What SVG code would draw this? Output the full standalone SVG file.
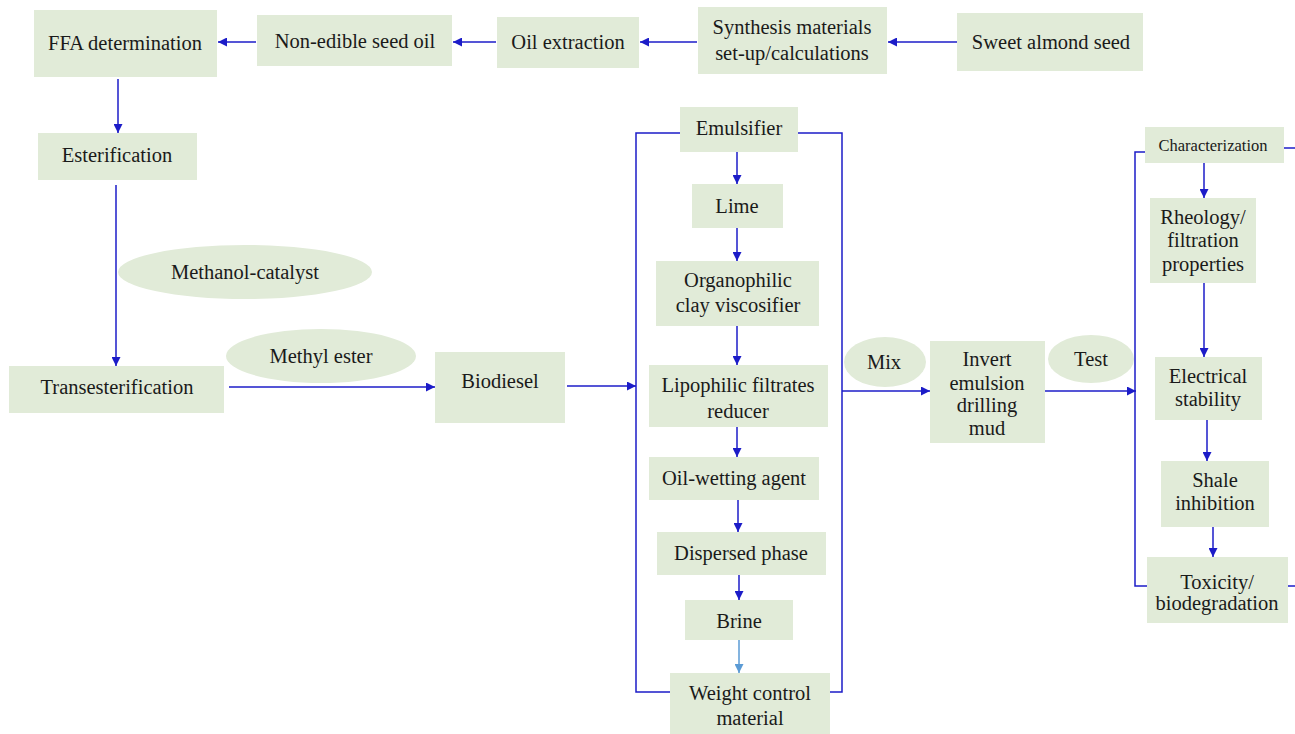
<svg xmlns="http://www.w3.org/2000/svg" width="1295" height="734" viewBox="0 0 1295 734">
<defs>
<marker id="ah" viewBox="0 0 10 10" refX="10" refY="5" markerWidth="9" markerHeight="9" markerUnits="userSpaceOnUse" orient="auto"><path d="M0,0 L10,5 L0,10 z" fill="#1c1cc8"/></marker>
<marker id="ahl" viewBox="0 0 10 10" refX="10" refY="5" markerWidth="9" markerHeight="9" markerUnits="userSpaceOnUse" orient="auto"><path d="M0,0 L10,5 L0,10 z" fill="#5b9bd5"/></marker>
<style>
.b{fill:#e1ebd8}
.t{font-size:20.5px;fill:#1a1a1a;text-anchor:middle}
.s{font-size:16.5px}
.c{fill:none;stroke:#1c1cc8;stroke-width:1.5}
.a{marker-end:url(#ah)}
</style>
</defs>
<rect width="1295" height="734" fill="#ffffff"/>
<g id="connectors">
<line class="c a" x1="957" y1="42" x2="888" y2="42"/>
<line class="c a" x1="697" y1="42" x2="640" y2="42"/>
<line class="c a" x1="496" y1="42" x2="453" y2="42"/>
<line class="c a" x1="256" y1="42" x2="218" y2="42"/>
<line class="c a" x1="118" y1="79" x2="118" y2="133"/>
<line class="c a" x1="116" y1="185" x2="116" y2="366"/>
<line class="c a" x1="229" y1="387" x2="435" y2="387"/>
<line class="c a" x1="567" y1="386" x2="636" y2="386"/>
<polyline class="c" points="680,133 636,133 636,692 670,692"/>
<polyline class="c" points="798,133 842,133 842,692 830,692"/>
<line class="c a" x1="737" y1="152" x2="737" y2="184"/>
<line class="c a" x1="737" y1="228" x2="737" y2="261"/>
<line class="c a" x1="737" y1="326" x2="737" y2="365"/>
<line class="c a" x1="737" y1="427" x2="737" y2="457"/>
<line class="c a" x1="738" y1="500" x2="738" y2="532"/>
<line class="c a" x1="739" y1="575" x2="739" y2="600"/>
<line x1="739" y1="640" x2="739" y2="673" fill="none" stroke="#5b9bd5" stroke-width="1.5" marker-end="url(#ahl)"/>
<line class="c a" x1="842" y1="391" x2="930" y2="391"/>
<line class="c a" x1="1045" y1="391" x2="1136" y2="391"/>
<polyline class="c" points="1145,152 1135,152 1135,586 1147,586"/>
<line class="c" x1="1284" y1="148" x2="1295" y2="148"/>
<line class="c" x1="1288" y1="586" x2="1295" y2="586"/>
<line class="c a" x1="1204" y1="163" x2="1204" y2="198"/>
<line class="c a" x1="1204" y1="283" x2="1204" y2="357"/>
<line class="c a" x1="1207" y1="420" x2="1207" y2="461"/>
<line class="c a" x1="1213" y1="527" x2="1213" y2="557"/>
</g>
<g id="nodes" font-family="'Liberation Serif', 'DejaVu Serif', serif">
<g id="n-ffa"><rect class="b" x="34" y="10" width="183" height="67"/><text class="t" x="125" y="50">FFA determination</text></g>
<g id="n-nonedible"><rect class="b" x="257" y="15" width="195" height="51"/><text class="t" x="355" y="48">Non-edible seed oil</text></g>
<g id="n-oilext"><rect class="b" x="497" y="17" width="142" height="51"/><text class="t" x="568" y="49">Oil extraction</text></g>
<g id="n-synth"><rect class="b" x="698" y="7" width="189" height="67"/><text class="t" x="792" y="34">Synthesis materials</text><text class="t" x="792" y="60">set-up/calculations</text></g>
<g id="n-almond"><rect class="b" x="957" y="13" width="186" height="58"/><text class="t" x="1051" y="49">Sweet almond seed</text></g>
<g id="n-ester"><rect class="b" x="38" y="133" width="159" height="47"/><text class="t" x="117" y="162">Esterification</text></g>
<g id="n-methanol"><ellipse class="b" cx="245" cy="272" rx="127" ry="27"/><text class="t" x="245" y="279">Methanol-catalyst</text></g>
<g id="n-methyl"><ellipse class="b" cx="321" cy="356" rx="95" ry="27"/><text class="t" x="321" y="363">Methyl ester</text></g>
<g id="n-trans"><rect class="b" x="9" y="366" width="215" height="47"/><text class="t" x="117" y="394">Transesterification</text></g>
<g id="n-biodiesel"><rect class="b" x="435" y="352" width="130" height="71"/><text class="t" x="500" y="388">Biodiesel</text></g>
<g id="n-emulsifier"><rect class="b" x="680" y="107" width="118" height="45"/><text class="t" x="739" y="135">Emulsifier</text></g>
<g id="n-lime"><rect class="b" x="692" y="184" width="91" height="44"/><text class="t" x="737" y="213">Lime</text></g>
<g id="n-organo"><rect class="b" x="656" y="261" width="163" height="65"/><text class="t" x="738" y="287">Organophilic</text><text class="t" x="738" y="312">clay viscosifier</text></g>
<g id="n-lipo"><rect class="b" x="649" y="365" width="179" height="62"/><text class="t" x="738" y="392">Lipophilic filtrates</text><text class="t" x="738" y="418">reducer</text></g>
<g id="n-oilwet"><rect class="b" x="649" y="457" width="170" height="43"/><text class="t" x="734" y="485">Oil-wetting agent</text></g>
<g id="n-dispersed"><rect class="b" x="657" y="532" width="169" height="43"/><text class="t" x="741" y="560">Dispersed phase</text></g>
<g id="n-brine"><rect class="b" x="685" y="600" width="108" height="40"/><text class="t" x="739" y="628">Brine</text></g>
<g id="n-weight"><rect class="b" x="670" y="673" width="160" height="61"/><text class="t" x="750" y="700">Weight control</text><text class="t" x="750" y="725">material</text></g>
<g id="n-mix"><ellipse class="b" cx="885" cy="362" rx="41" ry="25"/><text class="t" x="884" y="369">Mix</text></g>
<g id="n-invert"><rect class="b" x="930" y="341" width="115" height="102"/><text class="t" x="987" y="366">Invert</text><text class="t" x="987" y="390">emulsion</text><text class="t" x="987" y="412">drilling</text><text class="t" x="987" y="435">mud</text></g>
<g id="n-test"><ellipse class="b" cx="1091" cy="359" rx="43" ry="24"/><text class="t" x="1091" y="366">Test</text></g>
<g id="n-char"><rect class="b" x="1145" y="127" width="139" height="36"/><text class="t s" x="1213" y="151">Characterization</text></g>
<g id="n-rheo"><rect class="b" x="1150" y="198" width="106" height="85"/><text class="t" x="1203" y="224">Rheology/</text><text class="t" x="1203" y="247">filtration</text><text class="t" x="1203" y="271">properties</text></g>
<g id="n-elec"><rect class="b" x="1155" y="357" width="107" height="63"/><text class="t" x="1208" y="383">Electrical</text><text class="t" x="1208" y="406">stability</text></g>
<g id="n-shale"><rect class="b" x="1161" y="461" width="108" height="66"/><text class="t" x="1215" y="487">Shale</text><text class="t" x="1215" y="510">inhibition</text></g>
<g id="n-tox"><rect class="b" x="1147" y="557" width="141" height="66"/><text class="t" x="1217" y="589">Toxicity/</text><text class="t" x="1217" y="610">biodegradation</text></g>
</g>
</svg>
